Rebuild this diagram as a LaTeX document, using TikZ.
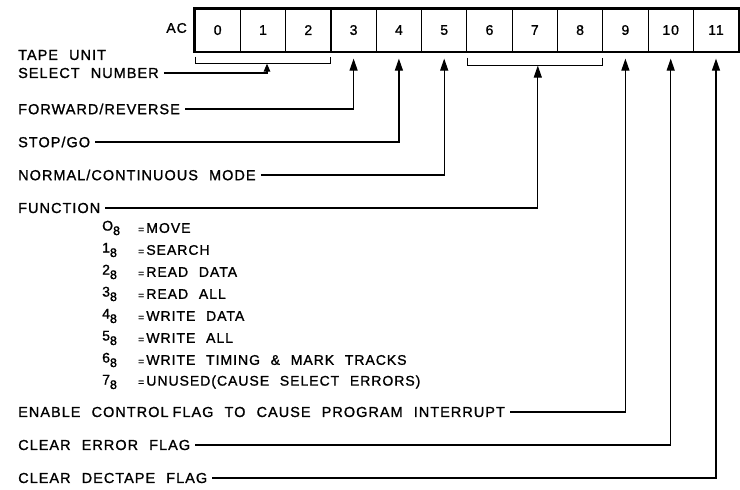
\documentclass[tikz,border=0pt]{standalone}
\usepackage{fontspec}
\setmainfont[LetterSpace=7,WordSpace=2.2,FakeBold=1.2]{Liberation Sans}
\usetikzlibrary{arrows.meta,calc}
\tikzset{
  cell/.style={draw,line width=1.1pt,minimum width=45.3pt,minimum height=42pt,inner sep=0pt,anchor=north west,font=\fontsize{14}{14}\selectfont},
  lbl/.style={anchor=west,inner xsep=5pt,inner ysep=0pt,font=\fontsize{14.5}{15}\selectfont},
  conn/.style={line width=1.2pt},
  arr/.style={line width=1.2pt,-{Triangle[length=12pt,width=8pt]}},
  sarr/.style={line width=1.2pt,-{Triangle[length=8pt,width=6.5pt]}},
  brk/.style={line width=1.2pt},
  item/.style={anchor=west,inner sep=0pt,font=\fontsize{14}{15}\selectfont}
}
\newcommand{\oct}[1]{#1\raisebox{-4.5pt}{\fontsize{12.5}{12.5}\selectfont 8}}
\begin{document}
\begin{tikzpicture}[x=1pt,y=-1pt]
\useasboundingbox (0,0) rectangle (740,490);
% register cells
\foreach \i in {0,...,11}{
  \node[cell] (c\i) at (194.5+\i*45.3,8.5) {\i};
}
\node[anchor=east,font=\fontsize{14}{14}\selectfont,inner sep=0pt] (ac) at (187,28) {AC};
\draw[line width=2.2pt] (c0.north west) rectangle (c11.south east);
% arrow tip coordinates
\foreach \i in {3,4,5,9,10,11}{
  \coordinate (t\i) at ($(c\i.south)+(0,7)$);
}
% brackets
\coordinate (b0) at ($(c0.south west)+(1,5)$);
\coordinate (b2) at ($(c2.south east)+(-1,5)$);
\draw[brk] (b0) -- ++(0,7) -| (b2);
\coordinate (tb0) at ($(c1.south)+(4,12)$);
\coordinate (b6) at ($(c6.south west)+(1,6)$);
\coordinate (b8) at ($(c8.south east)+(-1,6)$);
\draw[brk] (b6) -- ++(0,8) -| (b8);
\coordinate (tb6) at ($(c7.south)+(3,14)$);
% labels
\node[lbl] (tape) at (13,55) {TAPE UNIT};
\node[lbl] (sel) at (13,73) {SELECT NUMBER};
\node[lbl] (fwd) at (13,109) {FORWARD/REVERSE};
\node[lbl] (stop) at (13,142) {STOP/GO};
\node[lbl] (norm) at (13,175) {NORMAL/CONTINUOUS MODE};
\node[lbl] (fun) at (13,208) {FUNCTION};
\node[lbl] (ena) at (13,412) {ENABLE CONTROL\hspace{4pt}FLAG TO CAUSE PROGRAM INTERRUPT};
\node[lbl] (cerr) at (13,445) {CLEAR ERROR FLAG};
\node[lbl] (cdec) at (13,478) {CLEAR DECTAPE FLAG};
% function list
\foreach \d/\t [count=\k from 0] in {O/MOVE,1/SEARCH,2/READ DATA,3/READ ALL,4/WRITE\ DATA,5/WRITE ALL,6/WRITE TIMING \& MARK TRACKS,7/UNUSED(CAUSE SELECT ERRORS)}{
  \node[item] (d\k) at (102,228+\k*22) {\oct{\d}};
  \node[item] (f\k) at (138,228+\k*22) {{\fontsize{10}{10}\selectfont =}\,\t};
}
% connectors
\draw[sarr] (sel.east) -| (tb0);
\draw[arr] (fwd.east) -| (t3);
\draw[arr] (stop.east) -| (t4);
\draw[arr] (norm.east) -| (t5);
\draw[arr] (fun.east) -| (tb6);
\draw[arr] (ena.east) -| (t9);
\draw[arr] (cerr.east) -| (t10);
\draw[arr] (cdec.east) -| (t11);
\end{tikzpicture}
\end{document}
